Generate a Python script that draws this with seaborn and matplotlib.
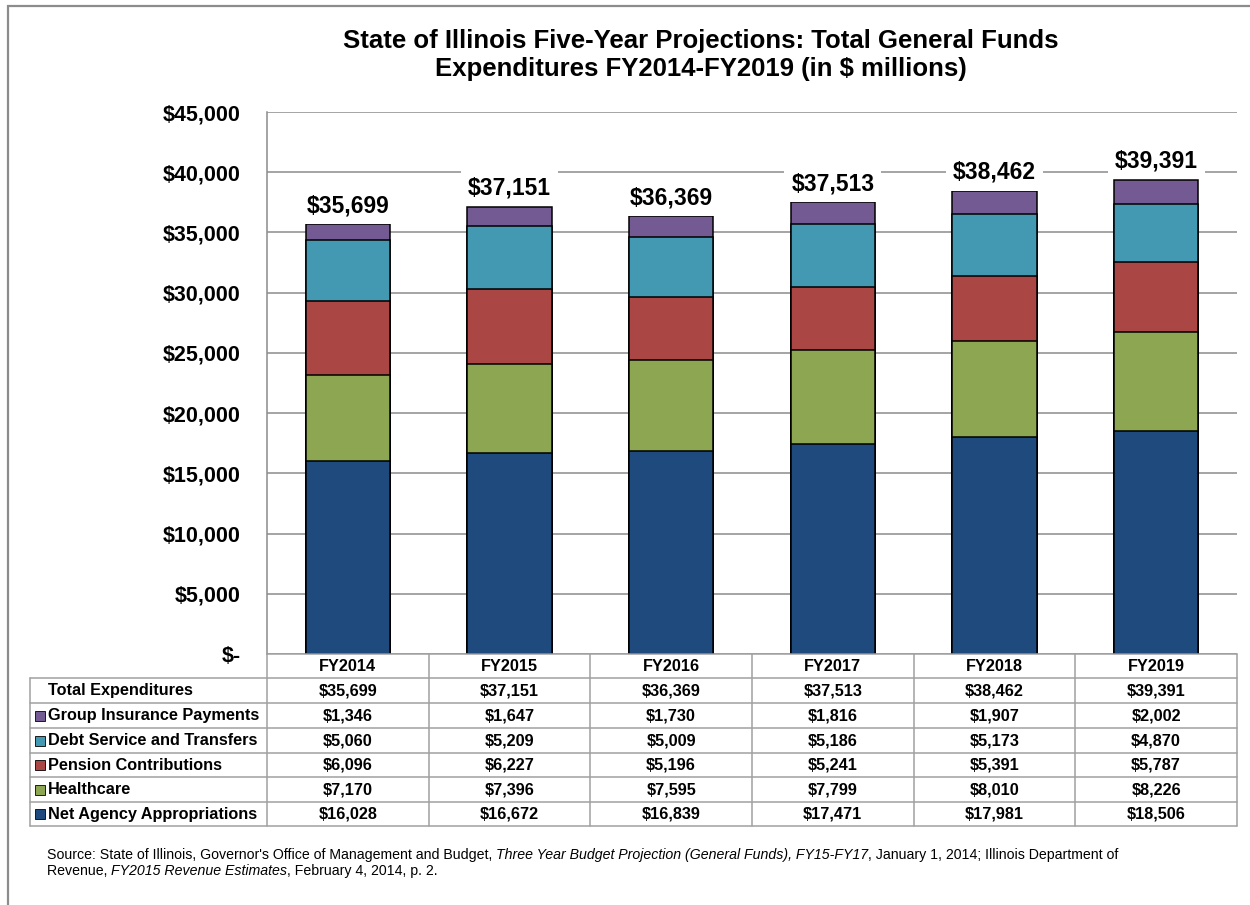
import matplotlib
matplotlib.use("Agg")
import matplotlib.pyplot as plt
import matplotlib.transforms as mtransforms
from matplotlib.patches import Rectangle
from matplotlib.lines import Line2D
import numpy as np
import pandas as pd
import seaborn as sns

# ---------------- data ----------------
years = ["FY2014", "FY2015", "FY2016", "FY2017", "FY2018", "FY2019"]
net_agency = [16028, 16672, 16839, 17471, 17981, 18506]
healthcare = [7170, 7396, 7595, 7799, 8010, 8226]
pension = [6096, 6227, 5196, 5241, 5391, 5787]
debt_service = [5060, 5209, 5009, 5186, 5173, 4870]
group_insurance = [1346, 1647, 1730, 1816, 1907, 2002]
totals = [35699, 37151, 36369, 37513, 38462, 39391]

series_names = ["Net Agency Appropriations", "Healthcare", "Pension Contributions",
                "Debt Service and Transfers", "Group Insurance Payments"]
series_values = [net_agency, healthcare, pension, debt_service, group_insurance]
series_colors = ["#1F4A7D", "#8CA651", "#AA4644", "#4399B1", "#745A92"]

y_ticks = [0, 5000, 10000, 15000, 20000, 25000, 30000, 35000, 40000, 45000]

title_text = ("State of Illinois Five-Year Projections: Total General Funds\n"
              "Expenditures FY2014-FY2019 (in $ millions)")

# ---------------- style ----------------
sns.set_style("white")
plt.rcParams["font.family"] = ["Liberation Sans", "DejaVu Sans"]
plt.rcParams["text.color"] = "black"
plt.rcParams["xtick.color"] = "black"
plt.rcParams["ytick.color"] = "black"
plt.rcParams["axes.labelcolor"] = "black"

W, H = 1250, 905
fig = plt.figure(figsize=(W / 100, H / 100), dpi=100)


def fx(x):
    return x / W


def fy(y):
    return 1 - y / H


ax_left, ax_right, ax_top, ax_bottom = 267, 1237, 112, 654
ax = fig.add_axes([fx(ax_left), fy(ax_bottom), fx(ax_right - ax_left), (ax_bottom - ax_top) / H])

# stacked bars: draw cumulative sums from tallest to shortest
cum = np.cumsum(np.array(series_values), axis=0)
for i in range(len(series_names) - 1, -1, -1):
    df = pd.DataFrame({"year": years, "value": cum[i]})
    sns.barplot(data=df, x="year", y="value", order=years, color=series_colors[i],
                saturation=1, width=0.52, edgecolor="black", linewidth=1.1,
                errorbar=None, ax=ax, zorder=3)

ax.set_xlim(-0.5, len(years) - 0.5)
ax.set_ylim(0, 45000)
ax.set_yticks(y_ticks)
ax.set_yticklabels(["$-" if v == 0 else f"${v:,.0f}" for v in y_ticks],
                   fontsize=15.5, fontweight="bold")
ax.tick_params(axis="y", length=0, pad=19)
ax.set_xticks([])
ax.set_xlabel("")
ax.set_ylabel("")
ax.yaxis.grid(True, color="#8C8C8C", linewidth=1.1, zorder=0)
ax.set_axisbelow(True)
for s in ["top", "right", "bottom"]:
    ax.spines[s].set_visible(False)
ax.spines["left"].set_color("#8C8C8C")
ax.spines["left"].set_linewidth(1.1)

# total labels
for i, t in enumerate(totals):
    ax.annotate(f"${t:,.0f}", xy=(i, t), xytext=(0, 5), textcoords="offset points",
                ha="center", va="bottom", fontsize=16.5, fontweight="bold",
                bbox=dict(boxstyle="square,pad=0.3", fc="white", ec="none"), zorder=5)

# title
fig.text(fx(701), fy(55), title_text, ha="center", va="center", fontsize=18.5,
         fontweight="bold", linespacing=1.25)

# ---------------- table ----------------
blend = mtransforms.blended_transform_factory(ax.transData, fig.transFigure)
grid_c = "#A0A0A0"
lw = 1.1
rows_y = [654, 678, 703, 728, 753, 777, 802, 826]
table_left = 30
label_right = 267

# header top line over year columns
fig.add_artist(Line2D([fx(label_right), fx(ax_right)], [fy(654), fy(654)], color=grid_c, lw=lw))
for yy in rows_y[1:]:
    fig.add_artist(Line2D([fx(table_left), fx(ax_right)], [fy(yy), fy(yy)], color=grid_c, lw=lw))
# vertical lines
fig.add_artist(Line2D([fx(table_left), fx(table_left)], [fy(678), fy(826)], color=grid_c, lw=lw))
for k in range(len(years) + 1):
    xk = k - 0.5
    fig.add_artist(Line2D([xk, xk], [fy(654), fy(826)], color=grid_c, lw=lw, transform=blend))

tab_fs = 11.7
# header labels
for i, yr in enumerate(years):
    fig.text(i, fy((rows_y[0] + rows_y[1]) / 2), yr, transform=blend, ha="center",
             va="center", fontsize=tab_fs, fontweight="bold")

row_labels = ["Total Expenditures"] + series_names[::-1]
row_data = [totals] + series_values[::-1]
row_colors = [None] + series_colors[::-1]
for r, (lab, vals, col) in enumerate(zip(row_labels, row_data, row_colors)):
    yc = (rows_y[r + 1] + rows_y[r + 2]) / 2
    fig.text(fx(48), fy(yc), lab, ha="left", va="center", fontsize=tab_fs, fontweight="bold")
    if col is not None:
        fig.add_artist(Rectangle((fx(35), fy(yc + 5)), fx(10), 10 / H, facecolor=col,
                                 edgecolor="black", linewidth=0.6))
    for i, v in enumerate(vals):
        fig.text(i, fy(yc), f"${v:,.0f}", transform=blend, ha="center", va="center",
                 fontsize=tab_fs, fontweight="bold")

# ---------------- source note ----------------
src_lines = [
    [("Source: State of Illinois, Governor's Office of Management and Budget, ", "normal"),
     ("Three Year Budget Projection (General Funds), FY15-FY17", "italic"),
     (", January 1, 2014; Illinois Department of", "normal")],
    [("Revenue, ", "normal"), ("FY2015 Revenue Estimates", "italic"),
     (", February 4, 2014, p. 2.", "normal")],
]
src_y = [855, 871]
renderer = fig.canvas.get_renderer()
for line, yy in zip(src_lines, src_y):
    x = fx(47)
    for txt, st in line:
        t = fig.text(x, fy(yy), txt, ha="left", va="center", fontsize=10.2, style=st)
        bb = t.get_window_extent(renderer=renderer)
        x = bb.x1 / (W)

# figure border
fig.add_artist(Rectangle((fx(7.5), fy(H + 10)), fx(W + 20), (H + 10 - 6.5) / H,
                         facecolor="none", edgecolor="#8C8C8C", linewidth=1.6))

fig.savefig("out.png", dpi=100)
